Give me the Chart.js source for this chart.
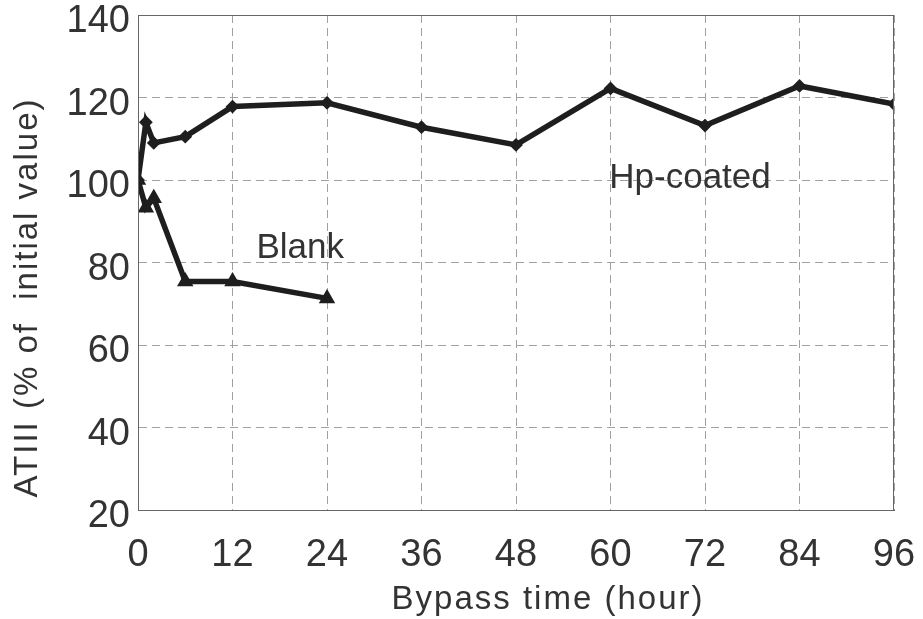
<!DOCTYPE html>
<html lang="en">
<head>
  <meta charset="UTF-8" />
  <title>ATIII vs bypass time</title>
  <script src="https://cdn.jsdelivr.net/npm/chart.js"></script>
  <style>
    html, body { margin: 0; padding: 0; background: #ffffff; }
    #wrap { width: 923px; height: 619px; }
  </style>
</head>
<body>
  <div id="wrap"><canvas id="atChart"></canvas></div>

  <script>
    // bypass time (hour)
    const hpTimes = [0, 1, 2, 6, 12, 24, 36, 48, 60, 72, 84, 96];
    const hpValues = [100, 114, 109, 110.5, 117.8, 118.7, 112.8, 108.5, 122.2, 113.2, 122.8, 118.4];

    const blankTimes = [0, 1, 2, 6, 12, 24];
    const blankValues = [100, 93.3, 95.6, 75.4, 75.4, 71.3];

    const xTicks = [0, 12, 24, 36, 48, 60, 72, 84, 96];
    const yTicks = [20, 40, 60, 80, 100, 120, 140];

    const xTitle = "Bypass time (hour)";
    const yTitle = "ATIII (% of  initial value)";

    // curve labels, placed in data units
    const labels = [
      { text: "Blank", x: 20.6, y: 83.5 },
      { text: "Hp-coated", x: 70.1, y: 100.5 }
    ];

    const ink = "#1e1e1e";
    const textColor = "#333333";

    const toPoints = (xs, ys) => xs.map((x, i) => ({ x: x, y: ys[i] }));

    // frame, curve labels and the two axis titles (titles sit a bit off-centre in the original)
    const extras = {
      id: "extras",
      afterDraw(chart) {
        const ctx = chart.ctx;
        const a = chart.chartArea;
        const xs = chart.scales.x, ys = chart.scales.y;
        ctx.save();
        ctx.strokeStyle = "#666666";
        ctx.lineWidth = 1;
        ctx.strokeRect(a.left + 0.5, a.top + 0.5, a.right - a.left - 1, a.bottom - a.top);

        ctx.fillStyle = textColor;
        ctx.textAlign = "center";
        ctx.textBaseline = "middle";
        ctx.font = "35px 'Liberation Sans', Arial, sans-serif";
        labels.forEach(l => ctx.fillText(l.text, xs.getPixelForValue(l.x), ys.getPixelForValue(l.y)));

        ctx.font = "33px 'Liberation Sans', Arial, sans-serif";
        ctx.letterSpacing = "2px";
        ctx.fillText(xTitle, (a.left + a.right) / 2 + 32, 600);
        ctx.translate(28, (a.top + a.bottom) / 2 + 35);
        ctx.rotate(-Math.PI / 2);
        ctx.fillText(yTitle, 0, 0);
        ctx.restore();
      }
    };

    new Chart(document.getElementById("atChart"), {
      type: "line",
      data: {
        datasets: [
          {
            label: "Hp-coated",
            data: toPoints(hpTimes, hpValues),
            borderColor: ink,
            backgroundColor: ink,
            borderWidth: 5.5,
            pointStyle: "rectRot",
            pointRadius: 3,
            tension: 0
          },
          {
            label: "Blank",
            data: toPoints(blankTimes, blankValues),
            borderColor: ink,
            backgroundColor: ink,
            borderWidth: 5.5,
            pointStyle: "triangle",
            pointRadius: 4,
            tension: 0
          }
        ]
      },
      options: {
        responsive: true,
        maintainAspectRatio: false,
        animation: false,
        layout: { padding: { top: 15, right: 29, left: 0, bottom: 0 } },
        plugins: {
          legend: { display: false },
          tooltip: { enabled: false }
        },
        scales: {
          x: {
            type: "linear",
            min: 0,
            max: 96,
            afterBuildTicks: s => { s.ticks = xTicks.map(v => ({ value: v })); },
            afterFit: s => { s.height = 109; s.paddingLeft = 0; s.paddingRight = 0; },
            border: { display: true, color: "#666666", width: 1, dash: [8, 5] },
            grid: { color: "#a0a0a0", lineWidth: 1, drawTicks: false },
            ticks: {
              color: textColor,
              padding: 23,
              maxRotation: 0,
              font: { family: "'Liberation Sans', Arial, sans-serif", size: 38 }
            }
          },
          y: {
            min: 20,
            max: 140,
            afterBuildTicks: s => { s.ticks = yTicks.map(v => ({ value: v })); },
            afterFit: s => { s.width = 138; s.paddingTop = 0; s.paddingBottom = 0; },
            border: { display: true, color: "#666666", width: 1, dash: [8, 5] },
            grid: { color: "#a0a0a0", lineWidth: 1, drawTicks: false },
            ticks: {
              color: textColor,
              padding: 8,
              labelOffset: 7,
              font: { family: "'Liberation Sans', Arial, sans-serif", size: 38 }
            }
          }
        }
      },
      plugins: [extras]
    });
  </script>
</body>
</html>
